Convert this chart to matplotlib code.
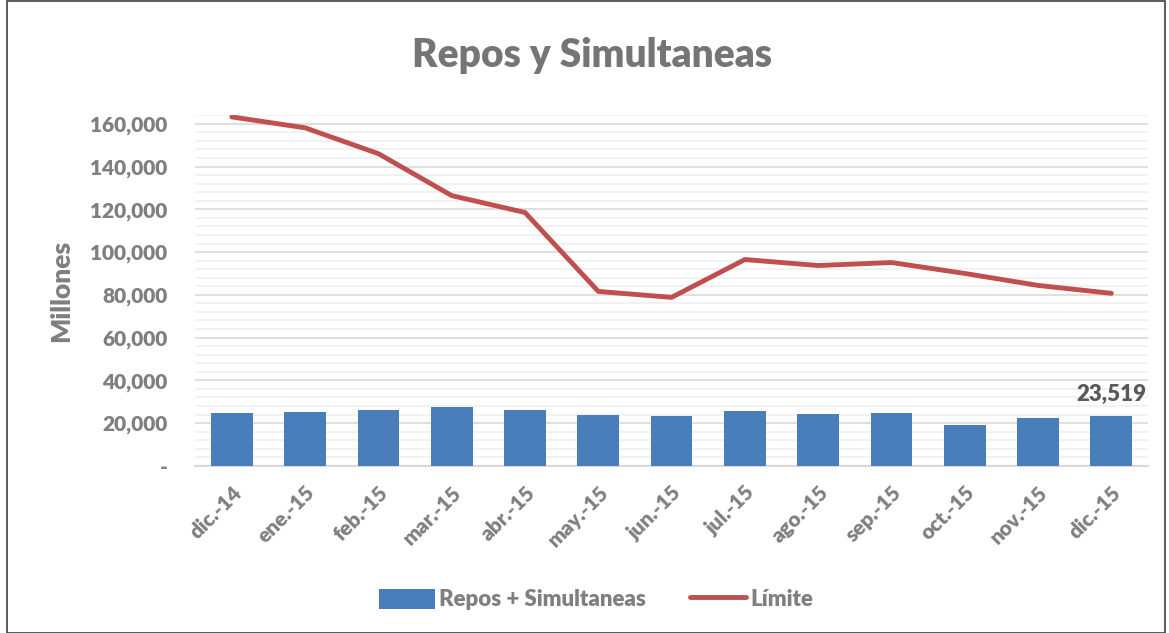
import matplotlib.pyplot as plt
from matplotlib.ticker import MultipleLocator, FuncFormatter
from matplotlib.patches import Rectangle
import numpy as np

months = ["dic.-14", "ene.-15", "feb.-15", "mar.-15", "abr.-15", "may.-15", "jun.-15",
          "jul.-15", "ago.-15", "sep.-15", "oct.-15", "nov.-15", "dic.-15"]
repos = [24700, 25200, 26100, 27500, 26100, 23800, 23300, 25700, 24300, 24700, 19100, 22400, 23519]
limite = [163200, 158100, 146000, 126400, 118500, 81600, 78800, 96500, 93700, 95100, 90000, 84400, 80700]

plt.rcParams["font.family"] = ["Lato", "DejaVu Sans"]
W = "heavy"

gray = "#7f7f7f"
fig = plt.figure(figsize=(11.69, 6.33), dpi=100)
ax = fig.add_axes([0.167, 0.264, 0.815, 0.554])

x = np.arange(len(months))
bars = ax.bar(x, repos, width=0.57, color="#4a7ebb", label="Repos + Simultaneas", zorder=3)
line, = ax.plot(x, limite, color="#c0504d", lw=3.5, solid_capstyle="round", label="Límite", zorder=4)
ax.annotate(f"{repos[-1]:,}", (x[-1], repos[-1]), xytext=(0, 8), textcoords="offset points",
            ha="center", va="bottom", fontsize=16, fontweight=W, color="#595959")

ax.set_xlim(-0.5, len(months) - 0.5)
ax.set_ylim(0, 164000)
ax.yaxis.set_major_locator(MultipleLocator(20000))
ax.yaxis.set_minor_locator(MultipleLocator(4000))
ax.yaxis.set_major_formatter(FuncFormatter(lambda v, p: "-" if v == 0 else f"{int(v):,}"))
ax.grid(axis="y", which="major", color="#d9d9d9", lw=1.2, zorder=0)
ax.grid(axis="y", which="minor", color="#f0f0f0", lw=1.2, zorder=0)
ax.set_axisbelow(True)
for s in ["top", "right", "left"]:
    ax.spines[s].set_visible(False)
ax.spines["bottom"].set_color("#d9d9d9")
ax.spines["bottom"].set_linewidth(1.5)
ax.tick_params(which="both", length=0)
ax.tick_params(axis="y", labelsize=15, labelcolor=gray, pad=20)
ax.set_xticks(x)
ax.set_xticklabels(months, rotation=45, ha="right", rotation_mode="anchor", fontsize=15, color=gray)
for t in ax.get_xticklabels() + ax.get_yticklabels():
    t.set_fontweight(W)
ax.tick_params(axis="x", pad=12)
ax.set_ylabel("Millones", fontsize=19, color=gray, fontweight=W, labelpad=12)

fig.text(0.506, 0.913, "Repos y Simultaneas", ha="center", va="center",
         fontsize=28, fontweight=W, color="#757575")

leg = fig.legend([bars, line], ["Repos + Simultaneas", "Límite"], loc="center",
                 bbox_to_anchor=(0.51, 0.053), ncol=2, frameon=False,
                 prop={"size": 16, "weight": W}, labelcolor=gray, handlelength=2.5,
                 handleheight=1.0, columnspacing=2.0, handletextpad=0.2)

fig.patches.append(Rectangle((0.006, 0.0), 0.991, 0.999, transform=fig.transFigure,
                             fill=False, edgecolor="#404040", lw=1.2))

fig.savefig("out.png", dpi=100)
